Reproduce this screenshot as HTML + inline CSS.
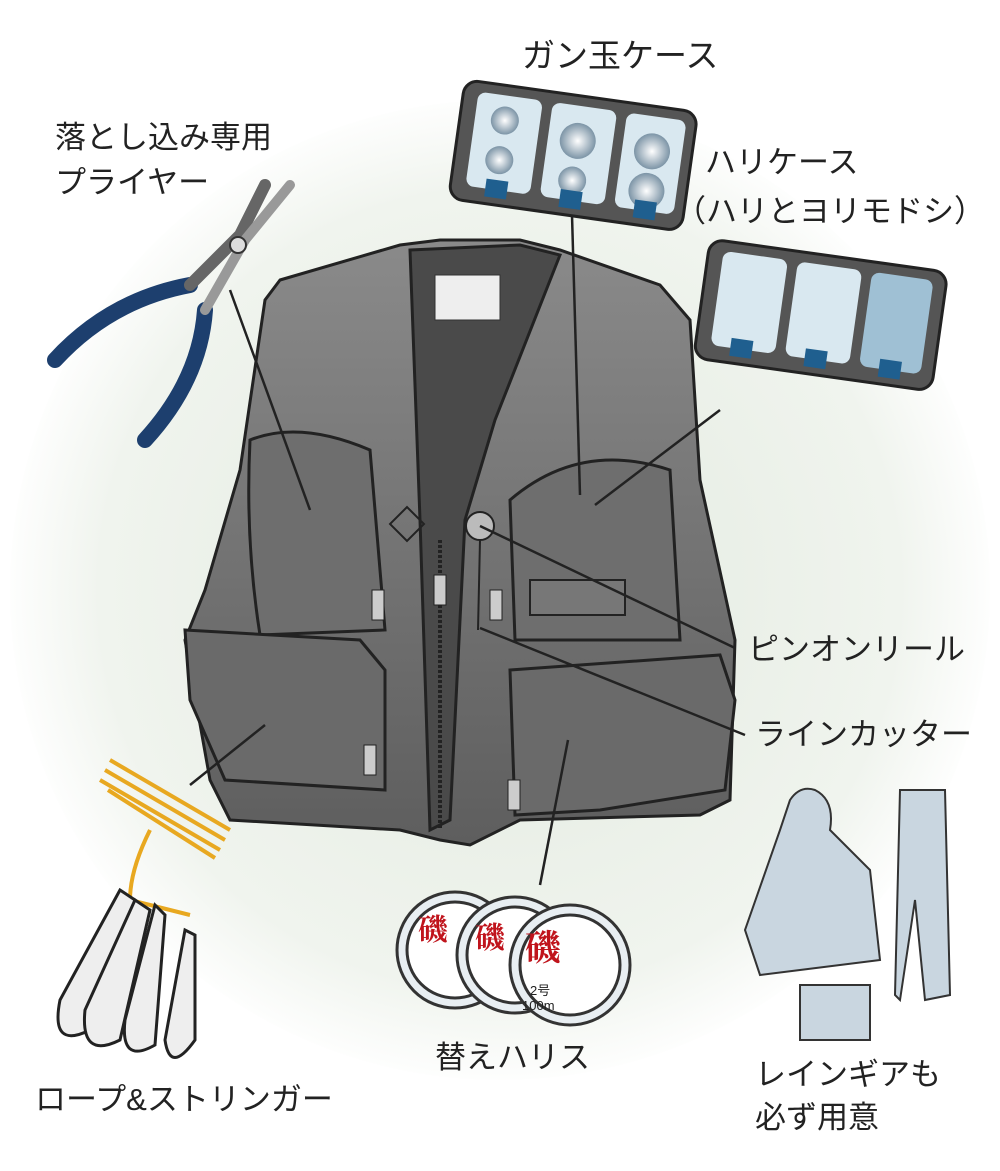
<!DOCTYPE html>
<html><head><meta charset="utf-8"><style>
body{margin:0;background:#fff}
.t{font-family:"Liberation Sans","Noto Sans CJK JP",sans-serif;font-size:31px;fill:#222}
</style></head><body>
<svg width="1000" height="1166" viewBox="0 0 1000 1166" xmlns="http://www.w3.org/2000/svg">
<defs>
<radialGradient id="bg" cx="500" cy="590" r="500" gradientUnits="userSpaceOnUse">
<stop offset="0" stop-color="#e2eadf"/><stop offset="0.8" stop-color="#f0f4ee"/><stop offset="1" stop-color="#fff"/></radialGradient>
<linearGradient id="vest" x1="0" y1="0" x2="0" y2="1"><stop offset="0" stop-color="#8a8a8a"/><stop offset="1" stop-color="#5e5e5e"/></linearGradient>
<radialGradient id="ball"><stop offset="0" stop-color="#fff"/><stop offset="1" stop-color="#7c94a6"/></radialGradient>
</defs>
<rect width="1000" height="1166" fill="#fff"/>
<circle cx="500" cy="590" r="490" fill="url(#bg)"/>
<!-- vest -->
<path d="M280 280 L400 245 L440 240 L520 240 L560 250 L660 285 L690 320 L700 480 L735 640 L730 800 L700 815 L520 820 L470 845 L440 840 L400 830 L230 820 L210 780 L185 640 L205 590 L240 470 L265 300 Z" fill="url(#vest)" stroke="#222" stroke-width="3"/>
<path d="M410 250 L520 245 L560 255 L495 420 L465 520 L450 820 L430 830 L420 520 Z" fill="#4a4a4a" stroke="#222" stroke-width="3"/>
<rect x="435" y="275" width="65" height="45" fill="#eee" stroke="#333"/>
<path d="M250 440 Q300 420 370 450 L385 630 L260 635 Q245 540 250 440Z" fill="#6e6e6e" stroke="#222" stroke-width="3"/>
<path d="M510 500 Q580 440 670 470 L680 640 L515 640 Z" fill="#6e6e6e" stroke="#222" stroke-width="3"/>
<rect x="530" y="580" width="95" height="35" fill="#777" stroke="#222" stroke-width="2"/>
<path d="M185 630 L360 640 L385 670 L385 790 L225 780 L190 700 Z" fill="#6a6a6a" stroke="#222" stroke-width="3"/>
<path d="M510 670 L720 655 L735 700 L725 790 L600 810 L515 815 Z" fill="#6a6a6a" stroke="#222" stroke-width="3"/>
<line x1="440" y1="540" x2="440" y2="830" stroke="#222" stroke-width="4" stroke-dasharray="3 2"/>
<rect x="434" y="575" width="12" height="30" fill="#ccc" stroke="#222"/>
<rect x="372" y="590" width="12" height="30" fill="#ccc" stroke="#222"/>
<rect x="364" y="745" width="12" height="30" fill="#ccc" stroke="#222"/>
<rect x="508" y="780" width="12" height="30" fill="#ccc" stroke="#222"/>
<rect x="490" y="590" width="12" height="30" fill="#ccc" stroke="#222"/>
<rect x="395" y="512" width="24" height="24" fill="none" stroke="#222" stroke-width="2" transform="rotate(45 407 524)"/>
<circle cx="480" cy="526" r="14" fill="#bbb" stroke="#222" stroke-width="2"/>
<line x1="480" y1="540" x2="478" y2="630" stroke="#222" stroke-width="2"/>
<!-- leader lines -->
<g stroke="#222" stroke-width="2.5" fill="none">
<line x1="230" y1="290" x2="310" y2="510"/>
<line x1="572" y1="215" x2="580" y2="495"/>
<line x1="720" y1="410" x2="595" y2="505"/>
<line x1="480" y1="526" x2="735" y2="648"/>
<line x1="480" y1="628" x2="745" y2="735"/>
<line x1="265" y1="725" x2="190" y2="785"/>
<line x1="568" y1="740" x2="540" y2="885"/>
</g>
<!-- ganda case -->
<g transform="rotate(8 570 160)">
<rect x="455" y="95" width="235" height="120" rx="14" fill="#555" stroke="#222" stroke-width="3"/>
<rect x="470" y="105" width="65" height="95" rx="8" fill="#d9e8f0"/>
<rect x="545" y="105" width="65" height="95" rx="8" fill="#d9e8f0"/>
<rect x="620" y="105" width="60" height="95" rx="8" fill="#d9e8f0"/>
<circle cx="500" cy="130" r="14" fill="url(#ball)"/><circle cx="500" cy="170" r="14" fill="url(#ball)"/>
<circle cx="575" cy="140" r="18" fill="url(#ball)"/><circle cx="575" cy="180" r="14" fill="url(#ball)"/>
<circle cx="650" cy="140" r="18" fill="url(#ball)"/><circle cx="650" cy="180" r="18" fill="url(#ball)"/>
<rect x="490" y="190" width="22" height="18" fill="#1f5f8f"/><rect x="565" y="190" width="22" height="18" fill="#1f5f8f"/><rect x="640" y="190" width="22" height="18" fill="#1f5f8f"/>
</g>
<!-- hari case -->
<g transform="rotate(8 820 320)">
<rect x="700" y="255" width="240" height="120" rx="14" fill="#555" stroke="#222" stroke-width="3"/>
<rect x="715" y="265" width="65" height="95" rx="8" fill="#d9e8f0"/>
<rect x="790" y="265" width="65" height="95" rx="8" fill="#d9e8f0"/>
<rect x="865" y="265" width="62" height="95" rx="8" fill="#9fc0d4"/>
<rect x="735" y="350" width="22" height="18" fill="#1f5f8f"/><rect x="810" y="350" width="22" height="18" fill="#1f5f8f"/><rect x="885" y="350" width="22" height="18" fill="#1f5f8f"/>
</g>
<!-- pliers -->
<g fill="none" stroke-linecap="round">
<path d="M190 285 Q110 300 55 360" stroke="#1d3f6e" stroke-width="16"/>
<path d="M205 310 Q200 380 145 440" stroke="#1d3f6e" stroke-width="16"/>
<path d="M190 285 L240 235 L265 185" stroke="#666" stroke-width="12"/>
<path d="M205 310 L245 240 L290 185" stroke="#999" stroke-width="10"/>
<circle cx="238" cy="245" r="8" fill="#ddd" stroke="#333" stroke-width="2"/>
</g>
<!-- rope -->
<g stroke="#e8a820" stroke-width="4" fill="none">
<path d="M105 770 L225 840"/><path d="M110 760 L230 830"/><path d="M100 780 L220 850"/><path d="M108 790 L215 858"/>
<path d="M150 830 Q130 870 130 900 L190 915"/>
</g>
<g fill="#eee" stroke="#222" stroke-width="3">
<path d="M120 890 L60 1000 Q50 1050 90 1030 L135 900Z"/>
<path d="M135 900 L85 1010 Q80 1060 120 1040 L150 910Z"/>
<path d="M155 905 L125 1020 Q120 1065 155 1045 L165 915Z"/>
<path d="M185 930 L165 1040 Q170 1075 195 1040 L195 935Z"/>
</g>
<!-- spools -->
<g stroke="#333" stroke-width="3">
<circle cx="455" cy="950" r="58" fill="#e8eef2"/><circle cx="455" cy="950" r="48" fill="#fff"/>
<circle cx="515" cy="955" r="58" fill="#e8eef2"/><circle cx="515" cy="955" r="48" fill="#fff"/>
<circle cx="570" cy="965" r="60" fill="#e8eef2"/><circle cx="570" cy="965" r="50" fill="#fff"/>
</g>
<text x="418" y="940" font-size="30" fill="#c0141c" font-family="Noto Serif CJK SC,serif" font-weight="bold">磯</text>
<text x="475" y="948" font-size="30" fill="#c0141c" font-family="Noto Serif CJK SC,serif" font-weight="bold">磯</text>
<text x="525" y="960" font-size="36" fill="#c0141c" font-family="Noto Serif CJK SC,serif" font-weight="bold">磯</text>
<text x="530" y="995" font-size="13" fill="#222" font-family="Liberation Sans">2号</text>
<text x="522" y="1010" font-size="13" fill="#222" font-family="Liberation Sans">100m</text>
<!-- rain gear -->
<path d="M790 800 Q800 785 815 790 Q835 800 830 830 L870 870 L880 960 L800 970 L760 975 L745 930 L780 830Z" fill="#c9d6e0" stroke="#333" stroke-width="2"/>
<path d="M900 790 L945 790 L950 995 L925 1000 L915 900 L900 1000 L895 995Z" fill="#c9d6e0" stroke="#333" stroke-width="2"/>
<rect x="800" y="985" width="70" height="55" fill="#c9d6e0" stroke="#333" stroke-width="2"/>
<!-- labels -->
<text class="t" x="522" y="67" style="font-size:33px">ガン玉ケース</text>
<text class="t" x="55" y="148">落とし込み専用</text>
<text class="t" x="55" y="193">プライヤー</text>
<text class="t" x="705" y="173">ハリケース</text>
<text class="t" x="675" y="222">（ハリとヨリモドシ）</text>
<text class="t" x="748" y="660">ピンオンリール</text>
<text class="t" x="755" y="745">ラインカッター</text>
<text class="t" x="35" y="1110">ロープ&amp;ストリンガー</text>
<text class="t" x="435" y="1068">替えハリス</text>
<text class="t" x="755" y="1085">レインギアも</text>
<text class="t" x="755" y="1128">必ず用意</text>
</svg>
</body></html>
